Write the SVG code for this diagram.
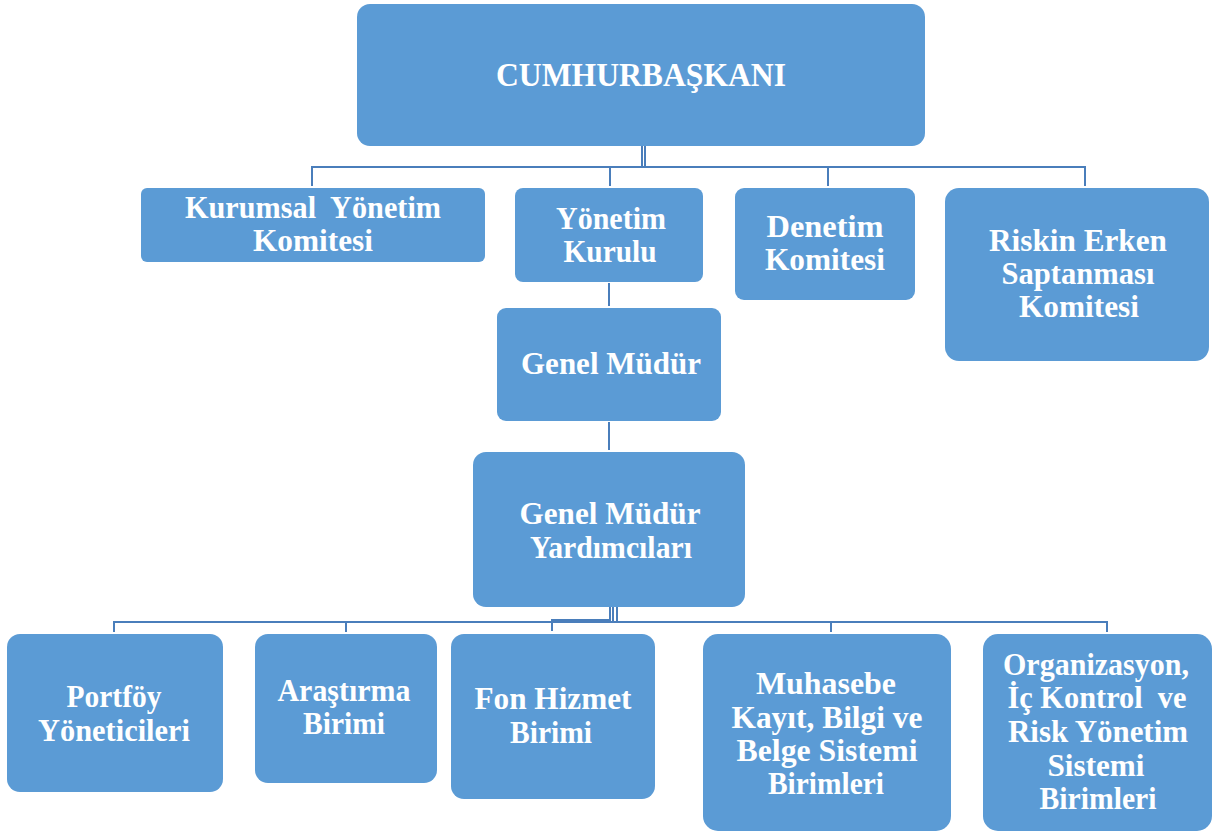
<svg xmlns="http://www.w3.org/2000/svg" width="1212" height="831" viewBox="0 0 1212 831">
  <style>
    .box { fill: #5B9BD5; }
    .lbl { font-family: "Liberation Serif", "Times New Roman", serif; font-weight: bold; font-size: 31px; fill: #FFFFFF; text-anchor: middle; }
    .big { font-size: 33px; }
    .wire { fill: none; stroke: #4A7EBB; stroke-width: 2; }
  </style>
  <rect width="1212" height="831" fill="#FFFFFF"/>

  <!-- connectors -->
  <g id="connectors">
    <path class="wire" d="M642 146 V166 M645 146 V166"/>
    <path class="wire" d="M312 186 V167 H1085 V186 M610 167 V186 M828 167 V186"/>
    <path class="wire" d="M609 283 V306"/>
    <path class="wire" d="M609 422 V450"/>
    <path class="wire" d="M610 607 V621 M613 607 V621 M617 607 V621"/>
    <path class="wire" d="M114 632 V622 H1107 V632 M346 622 V632 M831 622 V632"/>
    <path class="wire" d="M610 620 H552 V631"/>
  </g>

  <g id="cumhurbaskani">
    <rect class="box" x="357" y="4" width="568" height="142" rx="13"/>
    <text class="lbl big" x="641" y="86" textLength="290" lengthAdjust="spacingAndGlyphs">CUMHURBAŞKANI</text>
  </g>

  <g id="kurumsal-yonetim-komitesi">
    <rect class="box" x="141" y="188" width="344" height="74" rx="6"/>
    <text class="lbl" x="313" y="218" textLength="256" lengthAdjust="spacingAndGlyphs" xml:space="preserve">Kurumsal  Yönetim</text>
    <text class="lbl" x="313" y="251" textLength="120" lengthAdjust="spacingAndGlyphs">Komitesi</text>
  </g>

  <g id="yonetim-kurulu">
    <rect class="box" x="515" y="188" width="188" height="94" rx="8"/>
    <text class="lbl" x="611" y="229" textLength="110" lengthAdjust="spacingAndGlyphs">Yönetim</text>
    <text class="lbl" x="610" y="262" textLength="93" lengthAdjust="spacingAndGlyphs">Kurulu</text>
  </g>

  <g id="denetim-komitesi">
    <rect class="box" x="735" y="188" width="180" height="112" rx="9"/>
    <text class="lbl" x="825" y="237" textLength="117" lengthAdjust="spacingAndGlyphs">Denetim</text>
    <text class="lbl" x="825" y="270" textLength="120" lengthAdjust="spacingAndGlyphs">Komitesi</text>
  </g>

  <g id="riskin-erken-saptanmasi-komitesi">
    <rect class="box" x="945" y="188" width="264" height="173" rx="14"/>
    <text class="lbl" x="1078" y="251" textLength="178" lengthAdjust="spacingAndGlyphs">Riskin Erken</text>
    <text class="lbl" x="1078" y="284" textLength="153" lengthAdjust="spacingAndGlyphs">Saptanması</text>
    <text class="lbl" x="1079" y="317" textLength="120" lengthAdjust="spacingAndGlyphs">Komitesi</text>
  </g>

  <g id="genel-mudur">
    <rect class="box" x="497" y="308" width="224" height="113" rx="9"/>
    <text class="lbl" x="611" y="374" textLength="180" lengthAdjust="spacingAndGlyphs">Genel Müdür</text>
  </g>

  <g id="genel-mudur-yardimcilari">
    <rect class="box" x="473" y="452" width="272" height="155" rx="13"/>
    <text class="lbl" x="610" y="524" textLength="181" lengthAdjust="spacingAndGlyphs">Genel Müdür</text>
    <text class="lbl" x="611" y="558" textLength="162" lengthAdjust="spacingAndGlyphs">Yardımcıları</text>
  </g>

  <g id="portfoy-yoneticileri">
    <rect class="box" x="7" y="634" width="216" height="158" rx="13"/>
    <text class="lbl" x="114" y="707" textLength="95" lengthAdjust="spacingAndGlyphs">Portföy</text>
    <text class="lbl" x="114" y="741" textLength="152" lengthAdjust="spacingAndGlyphs">Yöneticileri</text>
  </g>

  <g id="arastirma-birimi">
    <rect class="box" x="255" y="634" width="182" height="149" rx="13"/>
    <text class="lbl" x="344" y="701" textLength="133" lengthAdjust="spacingAndGlyphs">Araştırma</text>
    <text class="lbl" x="344" y="734" textLength="82" lengthAdjust="spacingAndGlyphs">Birimi</text>
  </g>

  <g id="fon-hizmet-birimi">
    <rect class="box" x="451" y="634" width="204" height="165" rx="13"/>
    <text class="lbl" x="553" y="709" textLength="157" lengthAdjust="spacingAndGlyphs">Fon Hizmet</text>
    <text class="lbl" x="551" y="743" textLength="82" lengthAdjust="spacingAndGlyphs">Birimi</text>
  </g>

  <g id="muhasebe-kayit-birimleri">
    <rect class="box" x="703" y="634" width="248" height="197" rx="15"/>
    <text class="lbl" x="826" y="694" textLength="140" lengthAdjust="spacingAndGlyphs">Muhasebe</text>
    <text class="lbl" x="827" y="728" textLength="191" lengthAdjust="spacingAndGlyphs">Kayıt, Bilgi ve</text>
    <text class="lbl" x="827" y="761" textLength="181" lengthAdjust="spacingAndGlyphs">Belge Sistemi</text>
    <text class="lbl" x="826" y="794" textLength="116" lengthAdjust="spacingAndGlyphs">Birimleri</text>
  </g>

  <g id="organizasyon-ic-kontrol-birimleri">
    <rect class="box" x="983" y="634" width="229" height="197" rx="15"/>
    <text class="lbl" x="1096" y="675" textLength="186" lengthAdjust="spacingAndGlyphs">Organizasyon,</text>
    <text class="lbl" x="1097" y="708" textLength="179" lengthAdjust="spacingAndGlyphs" xml:space="preserve">İç Kontrol  ve</text>
    <text class="lbl" x="1098" y="742" textLength="180" lengthAdjust="spacingAndGlyphs">Risk Yönetim</text>
    <text class="lbl" x="1096" y="776" textLength="97" lengthAdjust="spacingAndGlyphs">Sistemi</text>
    <text class="lbl" x="1098" y="809" textLength="117" lengthAdjust="spacingAndGlyphs">Birimleri</text>
  </g>
</svg>
